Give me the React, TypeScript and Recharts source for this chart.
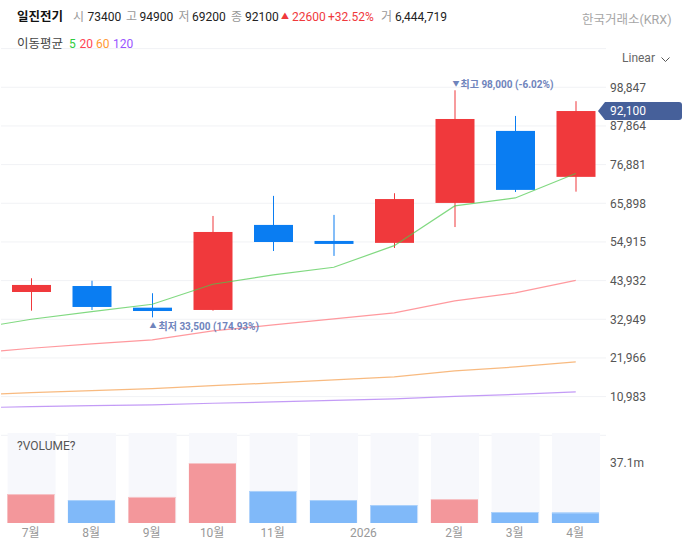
import React from "react";
import { ComposedChart, Bar, Line, XAxis, YAxis, CartesianGrid } from "recharts";

const FONT = "Roboto, 'Noto Sans CJK KR', sans-serif";

const positions = [0, 1, 2, 3, 4, 5, 6, 7, 8, 9];
const opens = [40700, 42400, 36250, 35600, 59750, 55200, 54650, 66000, 86450, 73400];
const highs = [44600, 43900, 40350, 62300, 68000, 62600, 68750, 98000, 90700, 94900];
const lows = [35400, 35600, 33500, 35400, 52350, 50950, 53200, 59150, 69100, 69200];
const closes = [42700, 36450, 35300, 57750, 54900, 54350, 67100, 89840, 69700, 92100];

// first entry of each moving average is the previous month, which lies left of the plot and is clipped
const maPositions = [-1, 0, 1, 2, 3, 4, 5, 6, 7, 8, 9];
const ma5 = [30120, 32960, 35120, 37220, 42900, 45540, 47730, 53860, 65140, 67410, 74370];
const ma20 = [23200, 24720, 25940, 27080, 29640, 31340, 33040, 34750, 38160, 40430, 43980];
const ma60 = [11380, 12110, 12680, 13250, 14100, 14870, 15720, 16570, 18280, 19410, 20830];
const ma120 = [7800, 8140, 8420, 8620, 9100, 9470, 9900, 10330, 11035, 11600, 12310];

const priceTicks = [10983, 21966, 32949, 43932, 54915, 65898, 76881, 87864, 98847];

const volumes = [17.9, 14.2, 16.1, 37.1, 19.8, 14.2, 11.1, 14.8, 6.8, 6.44];
const volumeUp = [true, false, true, true, false, false, false, true, false, false];
const volumeMax = 55.65;
const volumeTicks = [37.1];
const xTickPositions = [0, 1, 2, 3, 4, 5.5, 7, 8, 9];
const xTickLabels = ["7월", "8월", "9월", "10월", "11월", "2026", "2월", "3월", "4월"];

const priceData = maPositions.map((x, i) => {
  const k = positions.indexOf(x);
  return {
    x,
    ma5: ma5[i],
    ma20: ma20[i],
    ma60: ma60[i],
    ma120: ma120[i],
    range: k >= 0 ? [lows[k], highs[k]] : null,
    open: k >= 0 ? opens[k] : null,
    high: k >= 0 ? highs[k] : null,
    low: k >= 0 ? lows[k] : null,
    close: k >= 0 ? closes[k] : null,
  };
});

const volumeData = positions.map((x, i) => ({ x, vol: volumes[i], bg: volumeMax, up: volumeUp[i] }));

const Candle = (props: any) => {
  const { x, y, width, height, payload } = props;
  if (!payload || payload.open == null || !isFinite(y) || !isFinite(height)) return null;
  const { open, close, high, low } = payload;
  const px = height / (high - low);
  const yOf = (v: number) => y + (high - v) * px;
  const up = close >= open;
  const color = up ? "#F0393C" : "#0A7DF2";
  const top = yOf(Math.max(open, close));
  const bottom = yOf(Math.min(open, close));
  return (
    <g>
      <rect x={x + width / 2 - 0.5} y={y} width={1} height={height} fill={color} />
      <rect x={x} y={top} width={width} height={bottom - top} fill={color} />
    </g>
  );
};

const VolumeBar = (props: any) => {
  const { x, y, width, height, payload } = props;
  const up = payload && payload.up;
  return (
    <g>
      <rect x={x} y={y} width={width} height={height} fill={up ? "#F3979B" : "#80B9F9"} />
      <rect x={x} y={y} width={width} height={1} fill={up ? "#F6C4C7" : "#ABD1FB"} />
    </g>
  );
};

const at = (left: number, top: number, color: string, text: string, extra: React.CSSProperties = {}) => (
  <span
    key={`${left}-${top}`}
    style={{ position: "absolute", left, top, color, whiteSpace: "nowrap", lineHeight: "16px", ...extra }}
  >
    {text}
  </span>
);

export default function App() {
  return (
    <div style={{ position: "absolute", left: 0, top: 0, width: 687, height: 545, background: "#fff", overflow: "hidden", fontFamily: FONT, fontSize: 12 }}>
      <div style={{ position: "absolute", left: 0, top: 0 }}>
        <ComposedChart
          width={687}
          height={545}
          data={priceData}
          margin={{ top: 48.6, bottom: 109.7, left: 1, right: 0 }}
          barSize={39}
        >
          <CartesianGrid vertical={false} stroke="#F1F2F5" />
          <XAxis dataKey="x" type="number" domain={[-0.5, 9.5]} hide allowDataOverflow />
          <YAxis
            orientation="right"
            width={81}
            domain={[0, 109830]}
            ticks={priceTicks}
            interval={0}
            axisLine={false}
            tickLine={false}
            tickSize={0}
            tickMargin={4}
            tick={{ fill: "#555", fontSize: 12, fontFamily: FONT, textAnchor: "start" }}
            tickFormatter={(v: number) => v.toLocaleString("en-US")}
          />
          <Bar dataKey="range" isAnimationActive={false} shape={<Candle />} />
          <Line dataKey="ma5" stroke="#4CC94C" strokeOpacity={0.7} strokeWidth={1.2} dot={false} isAnimationActive={false} />
          <Line dataKey="ma20" stroke="#FF7F86" strokeOpacity={0.8} strokeWidth={1.2} dot={false} isAnimationActive={false} />
          <Line dataKey="ma60" stroke="#F7AE6A" strokeOpacity={0.85} strokeWidth={1.2} dot={false} isAnimationActive={false} />
          <Line dataKey="ma120" stroke="#B98AF5" strokeOpacity={0.85} strokeWidth={1.2} dot={false} isAnimationActive={false} />
        </ComposedChart>
      </div>

      <div style={{ position: "absolute", left: 0, top: 0 }}>
        <ComposedChart
          width={687}
          height={545}
          data={volumeData}
          margin={{ top: 433, bottom: 0, left: 1, right: 0 }}
        >
          <XAxis
            xAxisId="vol"
            dataKey="x"
            type="number"
            domain={[-0.49, 9.51]}
            allowDataOverflow
            ticks={xTickPositions}
            interval={0}
            height={22}
            axisLine={false}
            tickLine={false}
            tickSize={0}
            tickMargin={5}
            tick={{ fill: "#999", fontSize: 12, fontFamily: FONT }}
            tickFormatter={(v: number) => xTickLabels[xTickPositions.indexOf(v)]}
          />
          <XAxis xAxisId="bg" dataKey="x" type="number" domain={[-0.51, 9.49]} hide height={0} allowDataOverflow />
          <YAxis
            orientation="right"
            width={81}
            domain={[0, volumeMax]}
            ticks={volumeTicks}
            interval={0}
            axisLine={false}
            tickLine={false}
            tickSize={0}
            tickMargin={4}
            tick={{ fill: "#555", fontSize: 12, fontFamily: FONT, textAnchor: "start" }}
            tickFormatter={(v: number) => `${v}m`}
          />
          <Bar xAxisId="bg" dataKey="bg" barSize={48} fill="#F7F8FC" isAnimationActive={false} />
          <Bar xAxisId="vol" dataKey="vol" barSize={47} isAnimationActive={false} shape={<VolumeBar />} />
        </ComposedChart>
      </div>

      {at(17, 9, "#111", "일진전기", { fontWeight: 700, fontSize: 12.5 })}
      {at(73, 9, "#999", "시")}
      {at(87.5, 9, "#222", "73400")}
      {at(126, 9, "#999", "고")}
      {at(139.5, 9, "#222", "94900")}
      {at(178.5, 9, "#999", "저")}
      {at(192, 9, "#222", "69200")}
      {at(231, 9, "#999", "종")}
      {at(245, 9, "#222", "92100")}
      {at(281, 9, "#F0393C", "▲", { fontSize: 8 })}
      {at(292, 9, "#F0393C", "22600")}
      {at(328, 9, "#F0393C", "+32.52%")}
      {at(381, 9, "#999", "거")}
      {at(395, 9, "#222", "6,444,719")}
      {at(582, 11.5, "#A6A6A6", "한국거래소(KRX)", { fontSize: 12.5 })}

      {at(17, 35.5, "#444", "이동평균", { fontSize: 12.5 })}
      {at(69, 35.5, "#2ECC40", "5")}
      {at(79.5, 35.5, "#FF4455", "20")}
      {at(96, 35.5, "#FF9933", "60")}
      {at(113, 35.5, "#9955FF", "120")}

      {at(622, 50, "#666", "Linear")}
      <svg style={{ position: "absolute", left: 660, top: 56 }} width={11} height={8}>
        <path d="M1.5 1.5 L5.5 5.5 L9.5 1.5" fill="none" stroke="#555" strokeWidth={1} />
      </svg>

      {at(452.5, 76, "#6F84BC", "▼", { fontSize: 7 })}
      {at(460.5, 76.5, "#6F84BC", "최고 98,000 (-6.02%)", { fontSize: 10, fontWeight: 700 })}
      {at(149.5, 318, "#6F84BC", "▲", { fontSize: 7 })}
      {at(158.5, 319, "#6F84BC", "최저 33,500 (174.93%)", { fontSize: 10, fontWeight: 700 })}

      <svg style={{ position: "absolute", left: 597, top: 101 }} width={86} height={20}>
        <path d="M1 10 L8 1 L82 1 Q85 1 85 4 L85 16 Q85 19 82 19 L8 19 Z" fill="#46609A" />
      </svg>
      {at(610, 102.5, "#fff", "92,100")}

      {at(17, 438, "#555", "?VOLUME?")}
    </div>
  );
}
